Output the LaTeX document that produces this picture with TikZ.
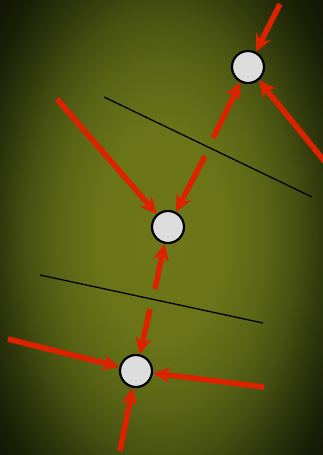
\documentclass[tikz,border=0pt]{standalone}
\usetikzlibrary{arrows.meta}
\definecolor{arrred}{RGB}{221,34,0}
\definecolor{nodefill}{RGB}{221,221,221}
\pgfdeclareradialshading{bgshade}{\pgfpoint{0bp}{0bp}}{rgb(0bp)=(0.431,0.471,0.102); rgb(10bp)=(0.416,0.455,0.094); rgb(16bp)=(0.353,0.400,0.086); rgb(21bp)=(0.275,0.314,0.067); rgb(25bp)=(0.188,0.220,0.047); rgb(30bp)=(0.098,0.118,0.024); rgb(36bp)=(0.047,0.055,0.012); rgb(60bp)=(0.047,0.055,0.012)}
\tikzset{
  site/.style={circle, draw=black, line width=2.2pt, fill=nodefill, minimum size=32pt, inner sep=0pt},
  flow/.style={draw=arrred, line width=5.5pt, -{Stealth[length=17pt,width=16pt,inset=5.5pt]}},
  divider/.style={draw=black, line width=1.3pt}
}
\begin{document}
\begin{tikzpicture}[x=1pt,y=-1pt]
\useasboundingbox (0,0) rectangle (323,455);
\begin{scope}
\clip (0,0) rectangle (323,455);
\shade[shading=bgshade] (0,-35) rectangle (323,505);
\end{scope}
% divider lines
\coordinate (a1) at (104,97); \coordinate (a2) at (312,197);
\coordinate (b1) at (40,275); \coordinate (b2) at (263,323);
\draw[divider] (a1) -- (a2);
\draw[divider] (b1) -- (b2);
% nodes
\node[site] (top) at (248,67) {};
\node[site] (mid) at (168,227) {};
\node[site] (bot) at (136,371) {};
% free ends
\coordinate (s1) at (280,4);
\coordinate (s2) at (213,138);
\coordinate (s3) at (326,163);
\coordinate (s4) at (57,99);
\coordinate (s5) at (205,156);
\coordinate (s6) at (155,289);
\coordinate (s7) at (150,309);
\coordinate (s8) at (8,339);
\coordinate (s9) at (264,387);
\coordinate (s10) at (120,451);
% arrows
\draw[flow] (s1) -- (top);
\draw[flow] (s2) -- (top);
\draw[flow] (s3) -- (top);
\draw[flow] (s4) -- (mid);
\draw[flow] (s5) -- (mid);
\draw[flow] (s6) -- (mid);
\draw[flow] (s7) -- (bot);
\draw[flow] (s8) -- (bot);
\draw[flow] (s9) -- (bot);
\draw[flow] (s10) -- (bot);
\end{tikzpicture}
\end{document}
